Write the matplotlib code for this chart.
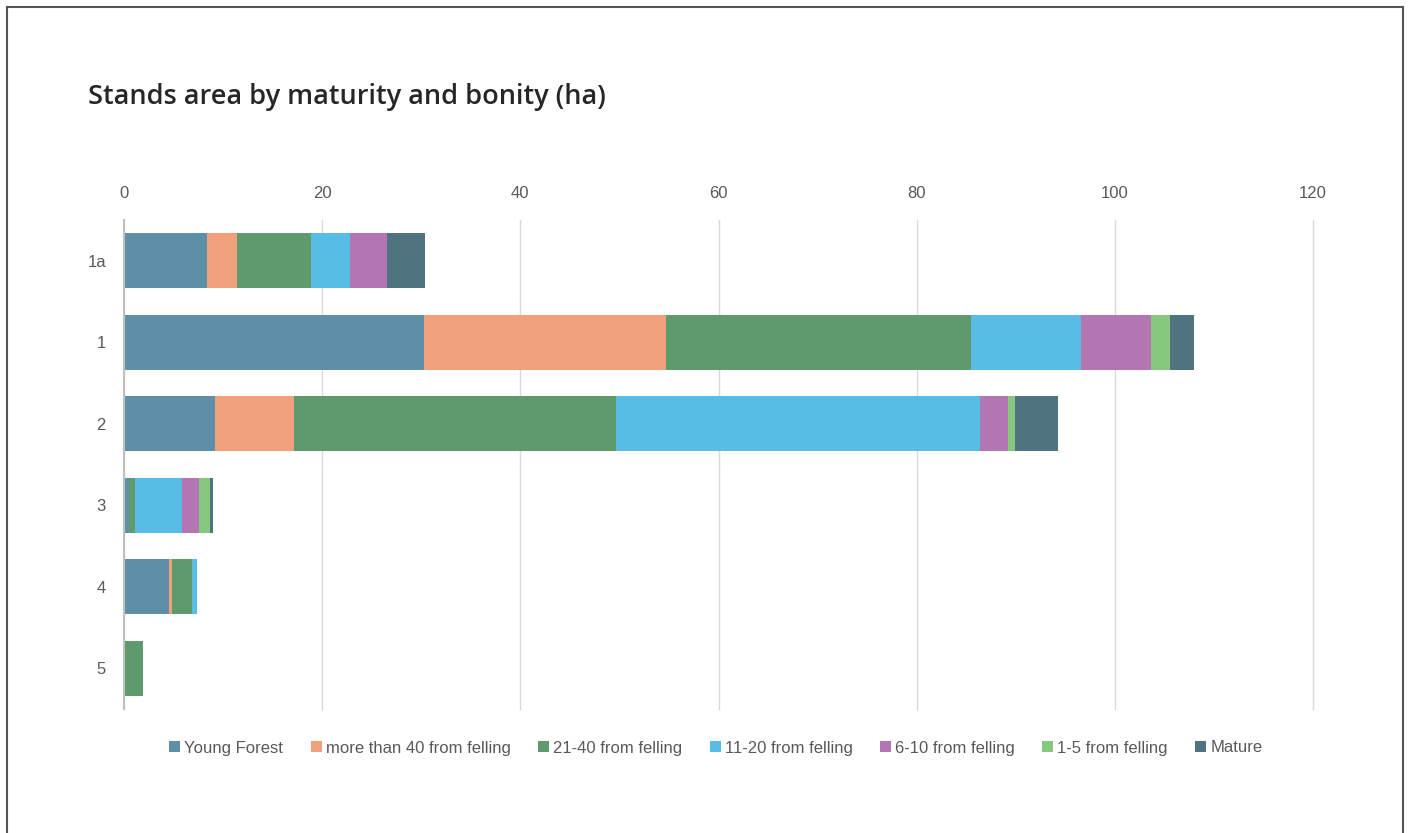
import matplotlib
matplotlib.use("Agg")
import matplotlib.pyplot as plt
import numpy as np

categories = ["1a", "1", "2", "3", "4", "5"]
series_names = ["Young Forest", "more than 40 from felling", "21-40 from felling",
                "11-20 from felling", "6-10 from felling", "1-5 from felling", "Mature"]
young_forest = [8.35, 30.28, 9.18, 0.54, 4.54, 0.0]
more_than_40 = [3.09, 24.42, 7.98, 0.0, 0.34, 0.0]
from_21_40 = [7.40, 30.79, 32.50, 0.60, 1.98, 1.89]
from_11_20 = [3.94, 11.10, 36.77, 4.68, 0.54, 0.0]
from_6_10 = [3.73, 7.06, 2.79, 1.78, 0.0, 0.0]
from_1_5 = [0.0, 1.95, 0.71, 1.08, 0.0, 0.0]
mature = [3.87, 2.43, 4.30, 0.30, 0.0, 0.0]
xticks = [0, 20, 40, 60, 80, 100, 120]

colors = ["#5F8FA7", "#F0A07A", "#5F9A6C", "#58BCE4", "#B476B2", "#86C87E", "#4F7381"]
series = [young_forest, more_than_40, from_21_40, from_11_20, from_6_10, from_1_5, mature]

fig = plt.figure(figsize=(14.1, 8.33), dpi=100)
W, H = 1410, 833
ax = fig.add_axes([124 / W, 1 - 709 / H, (1313 - 124) / W, (709 - 220) / H])

y = np.arange(len(categories))
left = np.zeros(len(categories))
handles = []
for vals, c, name in zip(series, colors, series_names):
    v = np.array(vals)
    b = ax.barh(y, v, left=left, height=0.67, color=c, label=name, zorder=3)
    handles.append(b)
    left += v

ax.set_ylim(len(categories) - 0.5, -0.5)
ax.set_xlim(0, 120)
ax.set_yticks(y)
ax.set_yticklabels(categories)
ax.set_xticks(xticks)
ax.xaxis.tick_top()
ax.tick_params(axis="both", length=0, labelsize=12, labelcolor="#595959")
ax.tick_params(axis="x", pad=14)
ax.tick_params(axis="y", pad=13)
for lab in ax.get_xticklabels() + ax.get_yticklabels():
    lab.set_family("Liberation Sans")
ax.grid(axis="x", color="#D9D9D9", linewidth=1, zorder=0)
for gl in ax.xaxis.get_gridlines():
    gl.set_clip_on(False)
for s in ["top", "right", "bottom"]:
    ax.spines[s].set_visible(False)
ax.spines["left"].set_color("#BFBFBF")
ax.spines["left"].set_linewidth(1.5)
ax.spines["left"].set_zorder(4)

fig.text(88 / W, 1 - 97 / H, "Stands area by maturity and bonity (ha)", fontsize=19.5,
         family="Open Sans", weight="semibold", color="#262626", va="center", ha="left")

leg = fig.legend(handles=handles, loc="center", bbox_to_anchor=(716 / W, 1 - 748 / H),
                 ncol=7, frameon=False, handlelength=0.65, handleheight=0.65,
                 handletextpad=0.25, columnspacing=1.65,
                 prop={"family": "Liberation Sans", "size": 12})
for t in leg.get_texts():
    t.set_color("#595959")

# frame
fig.add_artist(plt.Line2D([7 / W, 7 / W], [0, 1 - 7 / H], color="#555555", lw=1.5))
fig.add_artist(plt.Line2D([1403 / W, 1403 / W], [0, 1 - 7 / H], color="#555555", lw=1.5))
fig.add_artist(plt.Line2D([7 / W, 1403 / W], [1 - 7 / H, 1 - 7 / H], color="#555555", lw=1.5))

fig.savefig("out.png", dpi=100)
